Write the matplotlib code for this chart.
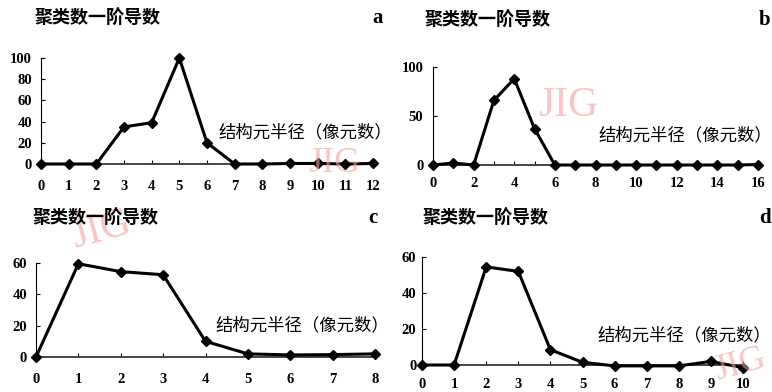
import matplotlib
matplotlib.use("Agg")
import matplotlib.pyplot as plt
from matplotlib.ticker import MultipleLocator

# ---- data ----
xa = list(range(0, 13))
ya = [0, 0, 0, 35, 39, 100, 20, 0, 0, 0.5, 0.5, 0, 0.5]
xb = list(range(0, 17))
yb = [0, 2, 0, 66, 88, 37, 0, 0, 0, 0, 0, 0, 0, 0, 0, 0, 0.5]
xc = list(range(0, 9))
yc = [0, 59.5, 54.5, 52.5, 10, 2, 1.3, 1.5, 2]
xd = list(range(0, 11))
yd = [0, 0, 54.5, 52, 8.5, 1.5, -0.5, -0.5, -0.5, 2, -1.5]

title_text = "聚类数一阶导数"
xlabel_text = "结构元半径（像元数）"
letters = ["a", "b", "c", "d"]

W, H = 772, 392
fig = plt.figure(figsize=(W / 100, H / 100), dpi=100)

cjk = ["Noto Sans CJK SC", "DejaVu Sans"]
serif = ["Liberation Serif", "DejaVu Serif"]


def rect(l, r, b, t):
    return [l / W, 1 - b / H, (r - l) / W, (b - t) / H]


panels = [
    dict(x=xa, y=ya, r=rect(41, 373, 164, 58), ylim=(0, 100), yt=[0, 20, 40, 60, 80, 100],
         xlim=(0, 12), xmaj=1, xmin=None, xpad=11.5, ypad=6.5,
         title=(35, 18), letter=(378, 18), lab=(218, 132),
         wm=(308, 164, 0, "left", 26)),
    dict(x=xb, y=yb, r=rect(433, 758, 165, 67), ylim=(0, 100), yt=[0, 50, 100],
         xlim=(0, 16), xmaj=2, xmin=1, xpad=8.5, ypad=7,
         title=(425, 20), letter=(765, 20), lab=(598, 135),
         wm=(538, 106, 0, "left", 30)),
    dict(x=xc, y=yc, r=rect(36, 375, 357, 263), ylim=(0, 60), yt=[0, 20, 40, 60],
         xlim=(0, 8), xmaj=1, xmin=None, xpad=11.5, ypad=6.5,
         title=(33, 218), letter=(373, 218), lab=(215, 325),
         wm=(68, 230, 15, "left", 30)),
    dict(x=xd, y=yd, r=rect(422, 743, 365, 257), ylim=(0, 60), yt=[0, 20, 40, 60],
         xlim=(0, 10), xmaj=1, xmin=None, xpad=9, ypad=4,
         title=(423, 218), letter=(765, 218), lab=(597, 335),
         wm=(770, 365, 15, "right", 26)),
]

for p, let in zip(panels, letters):
    ax = fig.add_axes(p["r"])
    ax.plot(p["x"], p["y"], color="black", lw=2.2, marker="D", ms=5.5,
            clip_on=False, zorder=5)
    ax.set_xlim(*p["xlim"])
    ax.set_ylim(*p["ylim"])
    ax.set_yticks(p["yt"])
    ax.xaxis.set_major_locator(MultipleLocator(p["xmaj"]))
    if p["xmin"]:
        ax.xaxis.set_minor_locator(MultipleLocator(p["xmin"]))
        ax.tick_params(axis="x", which="minor", direction="in", length=3, width=0.8)
    for s in ["top", "right"]:
        ax.spines[s].set_visible(False)
    ax.spines["left"].set_linewidth(0.8)
    ax.spines["bottom"].set_linewidth(1.4)
    ax.spines["bottom"].set_color("#444444")
    ax.tick_params(axis="x", which="major", direction="in", length=3, width=0.8,
                   pad=p["xpad"])
    ax.tick_params(axis="y", which="major", direction="in", length=3, width=0.8,
                   pad=p["ypad"])
    for lab in ax.get_xticklabels() + ax.get_yticklabels():
        lab.set_family(serif)
        lab.set_fontweight("bold")
        lab.set_fontsize(10.5)
    ax.patch.set_alpha(0)

    tx, ty = p["title"]
    fig.text(tx / W, 1 - ty / H, title_text, family=cjk, fontsize=13,
             fontweight="bold", ha="left", va="center")
    lx, ly = p["letter"]
    fig.text(lx / W, 1 - ly / H, let, family=serif, fontsize=15,
             fontweight="bold", ha="center", va="center")
    bx, by = p["lab"]
    fig.text(bx / W, 1 - by / H, xlabel_text, family=cjk, fontsize=12.5,
             ha="left", va="center")
    wx, wy, rot, ha, fs = p["wm"]
    fig.text(wx / W, 1 - wy / H, "JIG", family=serif, fontsize=fs,
             color="#f2a0a0", alpha=0.6, ha=ha, va="center", rotation=rot,
             zorder=0)

fig.savefig("out.png", dpi=100)
